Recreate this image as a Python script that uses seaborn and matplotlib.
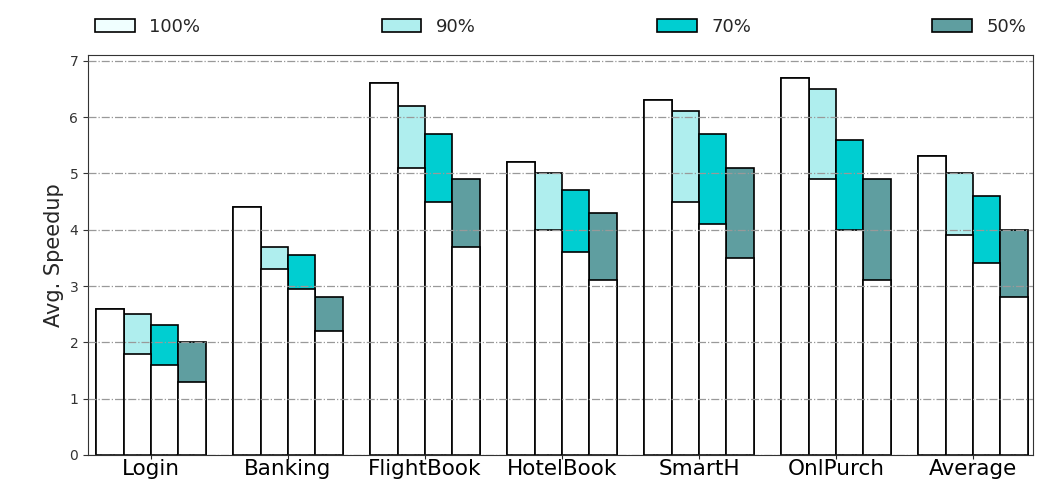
import pandas as pd
import matplotlib
matplotlib.use("Agg")
import matplotlib.pyplot as plt
import seaborn as sns

# data
apps = ['Login', 'Banking', 'FlightBook', 'HotelBook', 'SmartH', 'OnlPurch', 'Average']
levels = ['100%', '90%', '70%', '50%']

# top of each bar
top_100 = [2.6, 4.4, 6.6, 5.2, 6.3, 6.7, 5.3]
top_90 = [2.5, 3.7, 6.2, 5.0, 6.1, 6.5, 5.0]
top_70 = [2.3, 3.55, 5.7, 4.7, 5.7, 5.6, 4.6]
top_50 = [2.0, 2.8, 4.9, 4.3, 5.1, 4.9, 4.0]

# white lower part of each bar (the 100% bar is white all the way up)
low_100 = [2.6, 4.4, 6.6, 5.2, 6.3, 6.7, 5.3]
low_90 = [1.8, 3.3, 5.1, 4.0, 4.5, 4.9, 3.9]
low_70 = [1.6, 2.95, 4.5, 3.6, 4.1, 4.0, 3.4]
low_50 = [1.3, 2.2, 3.7, 3.1, 3.5, 3.1, 2.8]

colors = ['azure', 'paleturquoise', 'darkturquoise', 'cadetblue']

rows = []
for lvl, tops, lows in zip(levels, [top_100, top_90, top_70, top_50],
                           [low_100, low_90, low_70, low_50]):
    for a, t, l in zip(apps, tops, lows):
        rows.append({'app': a, 'level': lvl, 'top': t, 'low': l})
df = pd.DataFrame(rows)

sns.set_style('ticks')
fig = plt.figure(figsize=(10.48, 4.83), dpi=100)
ax = fig.add_axes([0.084, 0.058, 0.902, 0.828])

sns.barplot(data=df, x='app', y='top', hue='level', order=apps, hue_order=levels,
            palette=colors, saturation=1, edgecolor='black', linewidth=1.2,
            width=0.8, errorbar=None, ax=ax)
handles, labels = ax.get_legend_handles_labels()
sns.barplot(data=df, x='app', y='low', hue='level', order=apps, hue_order=levels,
            palette=['white'] * 4, saturation=1, edgecolor='black', linewidth=1.2,
            width=0.8, errorbar=None, legend=False, ax=ax)

ax.legend(handles, labels, loc='lower left', bbox_to_anchor=(0.0, 1.03, 1.0, 0.08),
          mode='expand', ncol=4, frameon=False, fontsize=13, handlelength=2.2,
          borderaxespad=0)

ax.set_ylim(0, 7.1)
ax.set_xlim(-0.46, 6.44)
ax.set_yticks(range(0, 8))
ax.tick_params(axis='y', labelsize=10, colors='#333333')
ax.tick_params(axis='x', labelsize=15.5, length=3, pad=0, labelcolor='black')
ax.set_xlabel('')
ax.set_ylabel('Avg. Speedup', fontsize=15)
ax.yaxis.grid(True, linestyle='-.', color='#999999', linewidth=0.9)
ax.set_axisbelow(False)
for s in ax.spines.values():
    s.set_visible(True)
    s.set_color('#333333')

fig.savefig('out.png', dpi=100)
